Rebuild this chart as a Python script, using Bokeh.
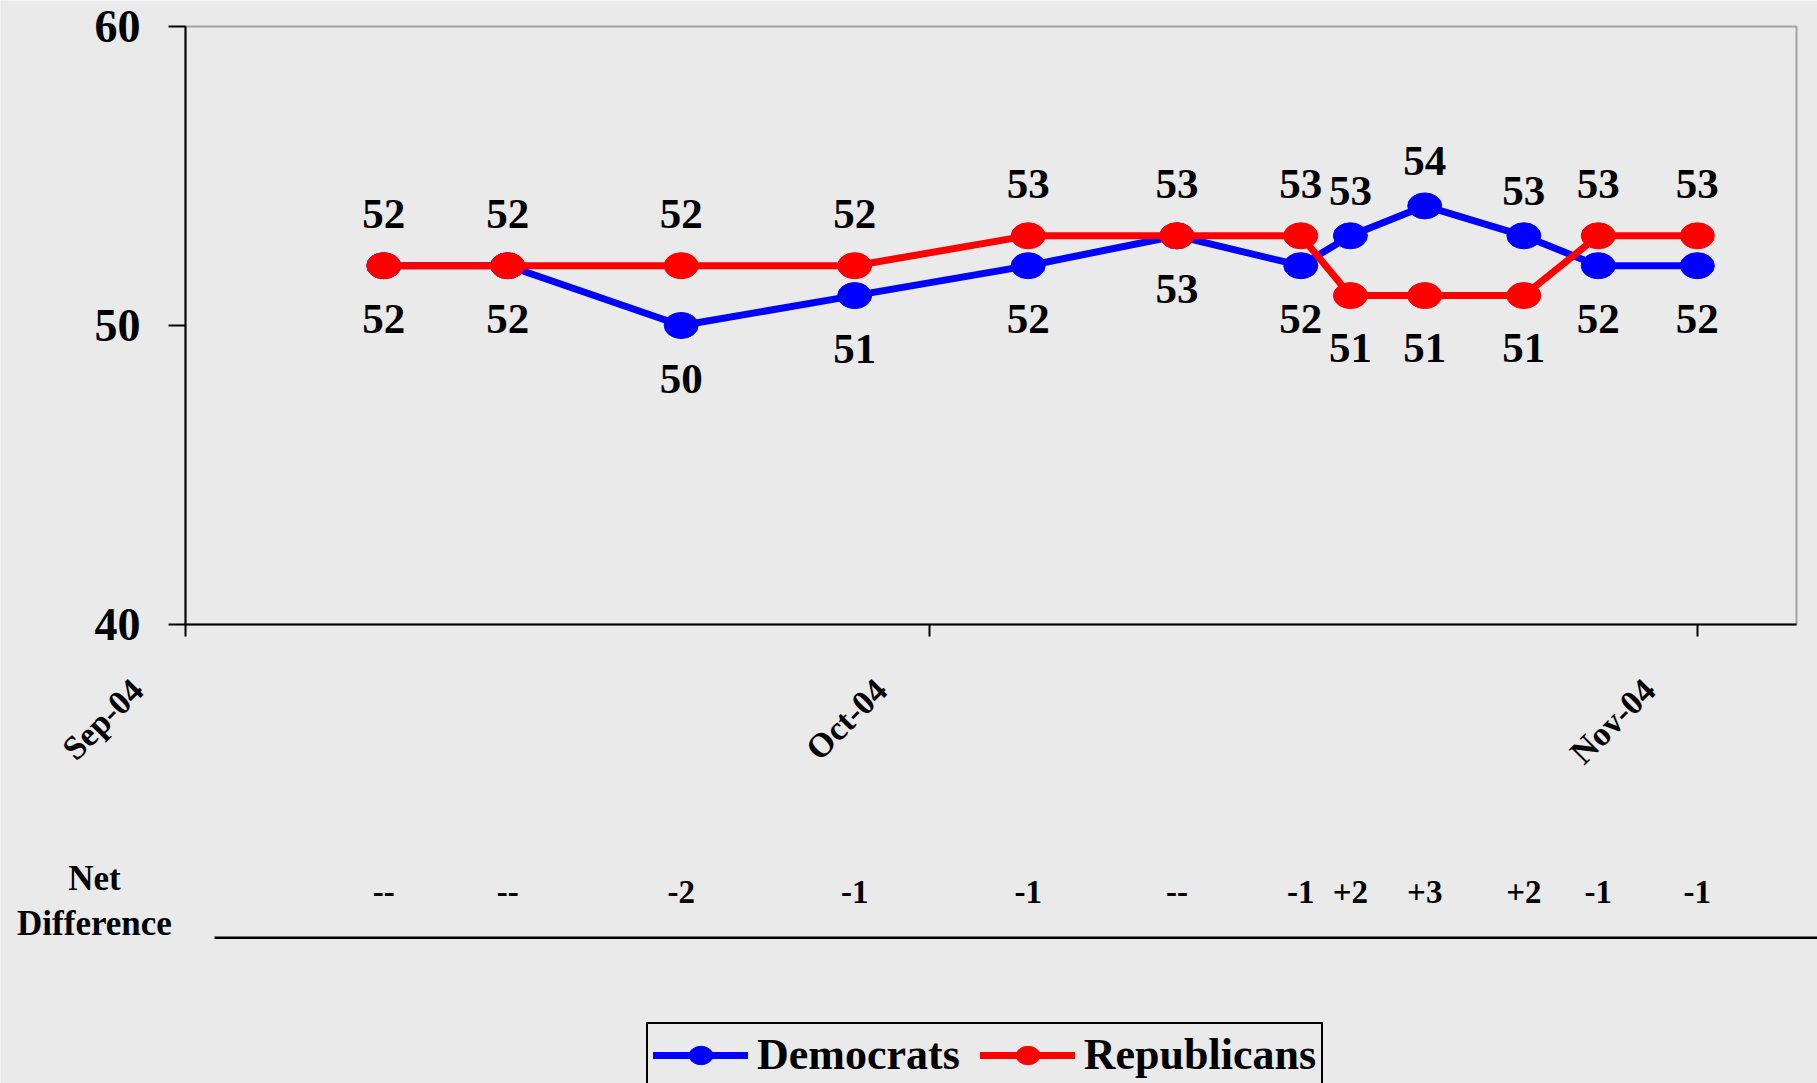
import math
from datetime import datetime, timedelta
import pandas as pd
from bokeh.plotting import figure
from bokeh.models import (ColumnDataSource, FixedTicker, Range1d, Legend, LegendItem,
                          BoxAnnotation, CustomJSTickFormatter, LinearAxis, DatetimeAxis)
from bokeh.core.properties import value
from bokeh.embed import file_html
from bokeh.resources import INLINE

# ---------------- data ----------------
dates = ["2004-09-09", "2004-09-14", "2004-09-21", "2004-09-28", "2004-10-05", "2004-10-11",
         "2004-10-16", "2004-10-18", "2004-10-21", "2004-10-25", "2004-10-28", "2004-11-01"]
democrats = [52, 52, 50, 51, 52, 53, 52, 53, 54, 53, 52, 52]
republicans = [52, 52, 52, 52, 53, 53, 53, 51, 51, 51, 53, 53]
net_difference = ["--", "--", "-2", "-1", "-1", "--", "-1", "+2", "+3", "+2", "-1", "-1"]
month_ticks = ["2004-09-01", "2004-10-01", "2004-11-01"]
month_labels = ["Sep-04", "Oct-04", "Nov-04"]
y_ticks = [40, 50, 60]

# ---------------- style / geometry ----------------
BG = "#EAEAEA"
FONT = "Liberation Serif"
W, H = 1817, 1083
X_START, X_END = datetime(2004, 9, 1), datetime(2004, 11, 5)   # plot-box extent
Y_START, Y_END = 40, 60
BOX_L, BOX_T, BOX_R, BOX_B = 185, 26, 1796, 624                 # plot box in page px
PX_PER_DAY = (BOX_R - BOX_L) / (X_END - X_START).days
PX_PER_UNIT = (BOX_B - BOX_T) / (Y_END - Y_START)


def ms(d):
    return pd.Timestamp(d).value // 10**6


def x_at(px):
    """page x pixel -> date (placement of decorations outside the plot box)"""
    return X_START + timedelta(days=(px - BOX_L) / PX_PER_DAY)


def y_at(py):
    """page y pixel -> value (placement of decorations outside the plot box)"""
    return Y_END - (py - BOX_T) / PX_PER_UNIT


xd = pd.to_datetime(dates)
tick_ms = [ms(t) for t in month_ticks]

# label placement derived from the data: higher series above, lower below
dem_off = [-45 if d > r else 53 for d, r in zip(democrats, republicans)]
rep_off = [-52 if r >= d else 52 for d, r in zip(democrats, republicans)]

src_d = ColumnDataSource(dict(x=xd, y=democrats, t=[str(v) for v in democrats], off=dem_off))
src_r = ColumnDataSource(dict(x=xd, y=republicans, t=[str(v) for v in republicans], off=rep_off))

p = figure(width=W, height=H, min_border=0, x_axis_type="datetime",
           x_axis_location=None, y_axis_location=None,
           x_range=Range1d(ms(x_at(0)), ms(x_at(W))), y_range=Range1d(y_at(H), y_at(0)),
           output_backend="svg", toolbar_location=None)

p.background_fill_color = BG
p.border_fill_color = BG
p.outline_line_color = None
p.xgrid.visible = False
p.ygrid.visible = False

# y axis, fixed at the left edge of the plot box
yax = LinearAxis(fixed_location=ms(X_START), bounds=(Y_START, Y_END), ticker=FixedTicker(ticks=y_ticks))
yax.minor_tick_line_color = None
yax.major_tick_in = 0
yax.major_tick_out = 17
yax.major_tick_line_width = 2
yax.axis_line_width = 2
yax.major_label_standoff = 28
yax.major_label_text_font = FONT
yax.major_label_text_font_style = "bold"
yax.major_label_text_font_size = "46px"
yax.major_label_text_color = "black"
p.add_layout(yax, "left")

# x axis, fixed at the bottom of the plot box (month labels drawn rotated below)
xax = DatetimeAxis(fixed_location=Y_START, bounds=(ms(X_START), ms(X_END)), ticker=FixedTicker(ticks=tick_ms))
xax.minor_tick_line_color = None
xax.major_tick_in = 0
xax.major_tick_out = 12
xax.major_tick_line_width = 2
xax.axis_line_width = 2
xax.formatter = CustomJSTickFormatter(code="return ''")
p.add_layout(xax, "below")

# plot box outline
p.add_layout(BoxAnnotation(left=ms(X_START), right=ms(X_END), bottom=Y_START, top=Y_END,
                           fill_alpha=0, line_color="black", line_width=2))

# series
line_kw = dict(line_width=7, line_join="round", line_cap="round")
ell_kw = dict(width=34, height=26, width_units="screen", height_units="screen")
dl = p.line("x", "y", source=src_d, line_color="#0000FF", **line_kw)
de = p.ellipse("x", "y", source=src_d, fill_color="#0000FF", line_color="#0000FF", **ell_kw)
rl = p.line("x", "y", source=src_r, line_color="#FF0000", **line_kw)
re_ = p.ellipse("x", "y", source=src_r, fill_color="#FF0000", line_color="#FF0000", **ell_kw)

txt_kw = dict(text_font=value(FONT), text_font_style="bold", text_color="black")
for s in (src_d, src_r):
    p.text("x", "y", text="t", source=s, y_offset="off", text_align="center", text_baseline="middle",
           text_font_size="43px", **txt_kw)

# month labels (rotated)
p.text(x=pd.to_datetime(month_ticks), y=[y_at(684)] * len(month_ticks), text=month_labels,
       angle=math.pi / 4, x_offset=-48, text_align="right", text_baseline="middle",
       text_font_size="34px", **txt_kw)

# net difference row
p.text(x=xd, y=[y_at(891)] * len(dates), text=net_difference, text_align="center",
       text_baseline="middle", text_font_size="33px", **txt_kw)
p.text(x=[x_at(94), x_at(94)], y=[y_at(878), y_at(923)], text=["Net", "Difference"],
       text_align="center", text_baseline="middle", text_font_size="35px", **txt_kw)
p.add_layout(BoxAnnotation(left=ms(x_at(214)), right=ms(x_at(1830)), top=y_at(936), bottom=y_at(938.5),
                           fill_color="black", fill_alpha=1, line_color=None))

# legend
legend = Legend(items=[LegendItem(label="Democrats", renderers=[dl, de]),
                       LegendItem(label="Republicans", renderers=[rl, re_])],
                orientation="horizontal", location=(646, -4),
                border_line_color="black", border_line_width=2, border_line_alpha=1,
                background_fill_color=BG, background_fill_alpha=1,
                label_text_font=FONT, label_text_font_style="bold", label_text_color="black",
                label_text_font_size="44px", glyph_width=95, glyph_height=30, label_standoff=9,
                spacing=20, padding=5, margin=0)
legend.padding = 5
p.add_layout(legend)

open("out.html", "w").write(file_html(p, INLINE))
